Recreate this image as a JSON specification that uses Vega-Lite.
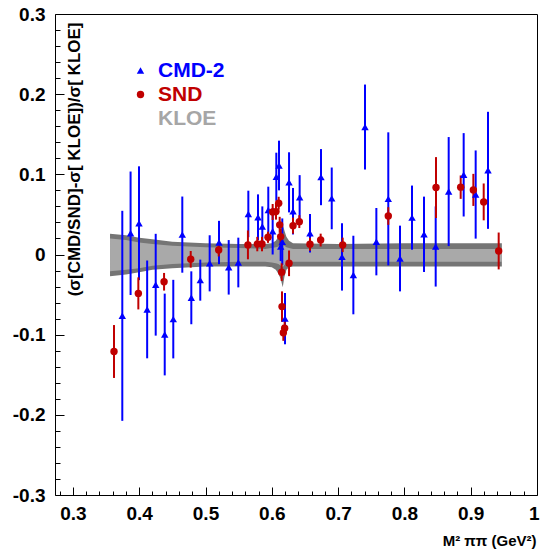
{
  "$schema": "https://vega.github.io/schema/vega-lite/v6.json",
  "width": 482,
  "height": 481,
  "autosize": {"type": "none"},
  "padding": {"left": 55, "top": 14, "right": 3, "bottom": 54},
  "background": "white",
  "config": {
    "view": {"stroke": "black", "strokeWidth": 1},
    "font": "Liberation Sans"
  },
  "datasets": {
    "points": [
      {"exp": "CMD-2", "x": 0.3745, "y": -0.0765, "err": 0.131},
      {"exp": "CMD-2", "x": 0.387, "y": 0.0265, "err": 0.077},
      {"exp": "CMD-2", "x": 0.3997, "y": 0.039, "err": 0.071},
      {"exp": "CMD-2", "x": 0.412, "y": -0.0685, "err": 0.061},
      {"exp": "CMD-2", "x": 0.4249, "y": -0.0377, "err": 0.0635},
      {"exp": "CMD-2", "x": 0.4385, "y": -0.0998, "err": 0.051},
      {"exp": "CMD-2", "x": 0.4514, "y": -0.0806, "err": 0.049},
      {"exp": "CMD-2", "x": 0.465, "y": 0.0248, "err": 0.0475},
      {"exp": "CMD-2", "x": 0.4786, "y": -0.054, "err": 0.033},
      {"exp": "CMD-2", "x": 0.4921, "y": -0.032, "err": 0.0256},
      {"exp": "CMD-2", "x": 0.5063, "y": -0.011, "err": 0.035},
      {"exp": "CMD-2", "x": 0.5204, "y": 0.015, "err": 0.027},
      {"exp": "CMD-2", "x": 0.535, "y": -0.016, "err": 0.034},
      {"exp": "CMD-2", "x": 0.5495, "y": -0.01, "err": 0.031},
      {"exp": "CMD-2", "x": 0.5646, "y": 0.0506, "err": 0.029},
      {"exp": "CMD-2", "x": 0.5792, "y": 0.0465, "err": 0.0285},
      {"exp": "CMD-2", "x": 0.5857, "y": 0.035, "err": 0.025},
      {"exp": "CMD-2", "x": 0.5947, "y": 0.0556, "err": 0.029},
      {"exp": "CMD-2", "x": 0.6013, "y": 0.029, "err": 0.029},
      {"exp": "CMD-2", "x": 0.6068, "y": 0.097, "err": 0.03},
      {"exp": "CMD-2", "x": 0.6109, "y": 0.111, "err": 0.031},
      {"exp": "CMD-2", "x": 0.6134, "y": 0.0098, "err": 0.018},
      {"exp": "CMD-2", "x": 0.6158, "y": 0.016, "err": 0.029},
      {"exp": "CMD-2", "x": 0.6199, "y": -0.08, "err": 0.032},
      {"exp": "CMD-2", "x": 0.626, "y": 0.09, "err": 0.0375},
      {"exp": "CMD-2", "x": 0.632, "y": 0.054, "err": 0.029},
      {"exp": "CMD-2", "x": 0.642, "y": 0.0715, "err": 0.0275},
      {"exp": "CMD-2", "x": 0.6576, "y": 0.0265, "err": 0.024},
      {"exp": "CMD-2", "x": 0.6742, "y": 0.0965, "err": 0.035},
      {"exp": "CMD-2", "x": 0.6904, "y": 0.07, "err": 0.0385},
      {"exp": "CMD-2", "x": 0.7059, "y": -0.003, "err": 0.042},
      {"exp": "CMD-2", "x": 0.723, "y": -0.0256, "err": 0.049},
      {"exp": "CMD-2", "x": 0.7406, "y": 0.159, "err": 0.053},
      {"exp": "CMD-2", "x": 0.7577, "y": 0.016, "err": 0.042},
      {"exp": "CMD-2", "x": 0.7757, "y": 0.0694, "err": 0.083},
      {"exp": "CMD-2", "x": 0.7934, "y": -0.005, "err": 0.041},
      {"exp": "CMD-2", "x": 0.8115, "y": 0.046, "err": 0.04},
      {"exp": "CMD-2", "x": 0.8296, "y": 0.0252, "err": 0.047},
      {"exp": "CMD-2", "x": 0.8472, "y": 0.01, "err": 0.05},
      {"exp": "CMD-2", "x": 0.8668, "y": 0.0785, "err": 0.068},
      {"exp": "CMD-2", "x": 0.8894, "y": 0.0994, "err": 0.052},
      {"exp": "CMD-2", "x": 0.9075, "y": 0.0748, "err": 0.055},
      {"exp": "CMD-2", "x": 0.9261, "y": 0.105, "err": 0.073},
      {"exp": "SND", "x": 0.362, "y": -0.121, "err": 0.033},
      {"exp": "SND", "x": 0.3987, "y": -0.0485, "err": 0.02},
      {"exp": "SND", "x": 0.4375, "y": -0.034, "err": 0.011},
      {"exp": "SND", "x": 0.4777, "y": -0.006, "err": 0.0104},
      {"exp": "SND", "x": 0.5199, "y": 0.0056, "err": 0.008},
      {"exp": "SND", "x": 0.564, "y": 0.012, "err": 0.018},
      {"exp": "SND", "x": 0.5781, "y": 0.013, "err": 0.009},
      {"exp": "SND", "x": 0.5852, "y": 0.013, "err": 0.009},
      {"exp": "SND", "x": 0.5943, "y": 0.0215, "err": 0.007},
      {"exp": "SND", "x": 0.6013, "y": 0.053, "err": 0.01},
      {"exp": "SND", "x": 0.6063, "y": 0.0535, "err": 0.01},
      {"exp": "SND", "x": 0.6104, "y": 0.064, "err": 0.008},
      {"exp": "SND", "x": 0.6119, "y": 0.037, "err": 0.01},
      {"exp": "SND", "x": 0.6134, "y": 0.0223, "err": 0.01},
      {"exp": "SND", "x": 0.6149, "y": -0.022, "err": 0.011},
      {"exp": "SND", "x": 0.6154, "y": -0.065, "err": 0.019},
      {"exp": "SND", "x": 0.6174, "y": -0.0977, "err": 0.01},
      {"exp": "SND", "x": 0.6194, "y": -0.092, "err": 0.01},
      {"exp": "SND", "x": 0.626, "y": -0.011, "err": 0.016},
      {"exp": "SND", "x": 0.632, "y": 0.036, "err": 0.01},
      {"exp": "SND", "x": 0.6415, "y": 0.041, "err": 0.008},
      {"exp": "SND", "x": 0.6576, "y": 0.0127, "err": 0.008},
      {"exp": "SND", "x": 0.6737, "y": 0.018, "err": 0.008},
      {"exp": "SND", "x": 0.7069, "y": 0.012, "err": 0.009},
      {"exp": "SND", "x": 0.7757, "y": 0.048, "err": 0.011},
      {"exp": "SND", "x": 0.8477, "y": 0.0835, "err": 0.038},
      {"exp": "SND", "x": 0.8849, "y": 0.084, "err": 0.0146},
      {"exp": "SND", "x": 0.904, "y": 0.0806, "err": 0.02},
      {"exp": "SND", "x": 0.9196, "y": 0.0656, "err": 0.023},
      {"exp": "SND", "x": 0.9422, "y": 0.0044, "err": 0.023}
    ],
    "band": [
      {"x": 0.356, "olo": -0.027, "ohi": 0.026, "ilo": -0.021, "ihi": 0.02},
      {"x": 0.38, "olo": -0.025, "ohi": 0.024, "ilo": -0.019, "ihi": 0.018},
      {"x": 0.4, "olo": -0.022, "ohi": 0.021, "ilo": -0.017, "ihi": 0.015},
      {"x": 0.42, "olo": -0.019, "ohi": 0.019, "ilo": -0.014, "ihi": 0.013},
      {"x": 0.45, "olo": -0.017, "ohi": 0.016, "ilo": -0.012, "ihi": 0.011},
      {"x": 0.5, "olo": -0.015, "ohi": 0.014, "ilo": -0.01, "ihi": 0.009},
      {"x": 0.55, "olo": -0.015, "ohi": 0.013, "ilo": -0.009, "ihi": 0.008},
      {"x": 0.59, "olo": -0.015, "ohi": 0.013, "ilo": -0.009, "ihi": 0.007},
      {"x": 0.6, "olo": -0.016, "ohi": 0.014, "ilo": -0.01, "ihi": 0.008},
      {"x": 0.606, "olo": -0.019, "ohi": 0.017, "ilo": -0.011, "ihi": 0.009},
      {"x": 0.61, "olo": -0.024, "ohi": 0.022, "ilo": -0.012, "ihi": 0.01},
      {"x": 0.6135, "olo": -0.031, "ohi": 0.03, "ilo": -0.014, "ihi": 0.011},
      {"x": 0.6165, "olo": -0.041, "ohi": 0.037, "ilo": -0.016, "ihi": 0.012},
      {"x": 0.619, "olo": -0.028, "ohi": 0.03, "ilo": -0.013, "ihi": 0.011},
      {"x": 0.622, "olo": -0.019, "ohi": 0.022, "ilo": -0.011, "ihi": 0.009},
      {"x": 0.626, "olo": -0.016, "ohi": 0.017, "ilo": -0.01, "ihi": 0.008},
      {"x": 0.632, "olo": -0.015, "ohi": 0.014, "ilo": -0.009, "ihi": 0.007},
      {"x": 0.7, "olo": -0.015, "ohi": 0.013, "ilo": -0.009, "ihi": 0.007},
      {"x": 0.8, "olo": -0.015, "ohi": 0.014, "ilo": -0.009, "ihi": 0.007},
      {"x": 0.947, "olo": -0.015, "ohi": 0.014, "ilo": -0.009, "ihi": 0.007}
    ]
  },
  "layer": [
    {
      "data": {"name": "band"},
      "mark": {"type": "area", "color": "#757575", "opacity": 1},
      "encoding": {
        "x": {
          "field": "x", "type": "quantitative",
          "scale": {"domain": [0.273, 1.0], "nice": false, "zero": false},
          "axis": {
            "orient": "bottom", "offset": -8,
            "values": [0.3, 0.4, 0.5, 0.6, 0.7, 0.8, 0.9, 1.0],
            "labelExpr": "format(datum.value, '~g')",
            "tickSize": 8, "tickColor": "black", "tickWidth": 1,
            "domain": false, "grid": false,
            "labelFont": "Liberation Sans", "labelFontWeight": "bold", "labelFontSize": 19, "labelColor": "black",
            "labelPadding": 9, "labelFlush": 1, "labelFlushOffset": 2, "labelOverlap": false, "labelBound": false,
            "title": "M² ππ (GeV²)",
            "titleFont": "Liberation Sans", "titleFontWeight": "bold", "titleFontSize": 15, "titleColor": "black",
            "titleX": 481, "titleY": 53, "titleAlign": "right", "titleBaseline": "middle", "titleAnchor": null
          }
        },
        "y": {
          "field": "olo", "type": "quantitative",
          "scale": {"domain": [-0.3, 0.3], "nice": false, "zero": false},
          "axis": {
            "orient": "left", "offset": -9,
            "values": [-0.3, -0.2, -0.1, 0, 0.1, 0.2, 0.3],
            "labelExpr": "datum.value < 0 ? '-' + format(-datum.value, '~g') : format(datum.value, '~g')",
            "tickSize": 9, "tickColor": "black", "tickWidth": 1,
            "domain": false, "grid": false,
            "labelFont": "Liberation Sans", "labelFontWeight": "bold", "labelFontSize": 19, "labelColor": "black",
            "labelPadding": 10, "labelFlush": false, "labelOverlap": false, "labelBound": false,
            "title": "(σ[CMD/SND]-σ[ KLOE])/σ[ KLOE]",
            "titleFont": "Liberation Sans", "titleFontWeight": "bold", "titleFontSize": 17, "titleColor": "black",
            "titleAngle": -90, "titleX": 10, "titleY": 8, "titleAlign": "right", "titleBaseline": "middle", "titleAnchor": null
          }
        },
        "y2": {"field": "ohi"}
      }
    },
    {
      "data": {"name": "band"},
      "mark": {"type": "area", "color": "#a9a9a9", "opacity": 1},
      "encoding": {
        "x": {
          "field": "x", "type": "quantitative",
          "axis": {
            "orient": "bottom", "offset": -4,
            "values": [0.28, 0.32, 0.34, 0.36, 0.38, 0.42, 0.44, 0.46, 0.48, 0.52, 0.54, 0.56, 0.58, 0.62, 0.64, 0.66, 0.68, 0.72, 0.74, 0.76, 0.78, 0.82, 0.84, 0.86, 0.88, 0.92, 0.94, 0.96, 0.98],
            "labels": false, "tickSize": 4, "tickColor": "black", "tickWidth": 1,
            "domain": false, "grid": false, "title": null
          }
        },
        "y": {
          "field": "ilo", "type": "quantitative",
          "axis": {
            "orient": "left", "offset": -5,
            "values": [-0.28, -0.26, -0.24, -0.22, -0.18, -0.16, -0.14, -0.12, -0.08, -0.06, -0.04, -0.02, 0.02, 0.04, 0.06, 0.08, 0.12, 0.14, 0.16, 0.18, 0.22, 0.24, 0.26, 0.28],
            "labels": false, "tickSize": 5, "tickColor": "black", "tickWidth": 1,
            "domain": false, "grid": false, "title": null
          }
        },
        "y2": {"field": "ihi"}
      }
    },
    {
      "data": {"name": "points"},
      "transform": [{"filter": "datum.exp === 'CMD-2'"}],
      "mark": {"type": "errorbar", "ticks": false, "color": "#0000ff", "rule": {"strokeWidth": 2}},
      "encoding": {
        "x": {"field": "x", "type": "quantitative", "axis": null},
        "y": {"field": "y", "type": "quantitative", "axis": null},
        "yError": {"field": "err"}
      }
    },
    {
      "data": {"name": "points"},
      "transform": [{"filter": "datum.exp === 'SND'"}],
      "mark": {"type": "errorbar", "ticks": false, "color": "#c00000", "rule": {"strokeWidth": 2}},
      "encoding": {
        "x": {"field": "x", "type": "quantitative", "axis": null},
        "y": {"field": "y", "type": "quantitative", "axis": null},
        "yError": {"field": "err"}
      }
    },
    {
      "data": {"name": "points"},
      "mark": {"type": "point", "filled": true, "opacity": 1, "strokeWidth": 0, "size": 55},
      "encoding": {
        "x": {"field": "x", "type": "quantitative", "axis": null},
        "y": {"field": "y", "type": "quantitative", "axis": null},
        "color": {
          "field": "exp", "type": "nominal",
          "scale": {"domain": ["CMD-2", "SND", "KLOE"], "range": ["#0000ff", "#c00000", "#a6a6a6"]},
          "legend": {
            "orient": "none", "legendX": 75, "legendY": 46, "title": null,
            "labelFont": "Liberation Sans", "labelFontWeight": "bold", "labelFontSize": 21,
            "labelColor": {"expr": "datum.value === 'CMD-2' ? '#0000ff' : datum.value === 'SND' ? '#c00000' : '#a6a6a6'"},
            "symbolSize": 55, "rowPadding": 2, "labelOffset": 7
          }
        },
        "shape": {
          "field": "exp", "type": "nominal",
          "scale": {"domain": ["CMD-2", "SND", "KLOE"], "range": ["triangle-up", "circle", "M0,0"]},
          "legend": {
            "orient": "none", "legendX": 75, "legendY": 46, "title": null,
            "labelFont": "Liberation Sans", "labelFontWeight": "bold", "labelFontSize": 21,
            "labelColor": {"expr": "datum.value === 'CMD-2' ? '#0000ff' : datum.value === 'SND' ? '#c00000' : '#a6a6a6'"},
            "symbolSize": 55, "rowPadding": 2, "labelOffset": 7
          }
        }
      }
    }
  ],
  "resolve": {"axis": {"x": "independent", "y": "independent"}}
}
